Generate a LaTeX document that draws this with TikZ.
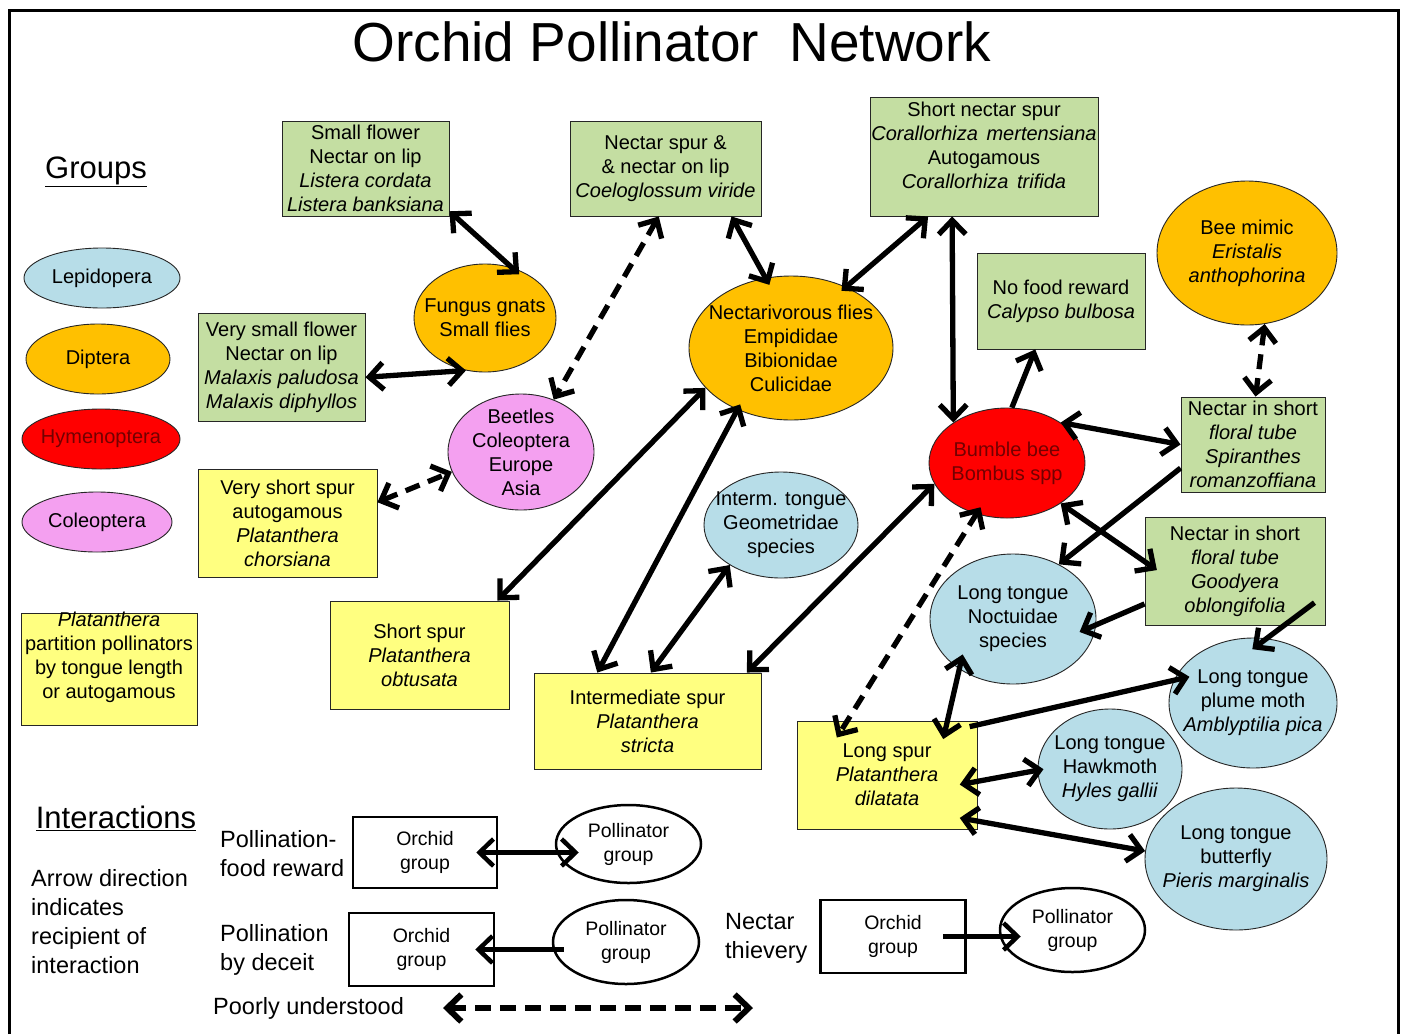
\documentclass[tikz,border=0pt]{standalone}
\usepackage{fontspec}
\setmainfont{Liberation Sans}
\usetikzlibrary{shapes.geometric,arrows.meta,calc}
\newcommand\fsz[2]{\fontsize{#1}{#2}\selectfont}
\definecolor{grn}{RGB}{196,222,162}
\definecolor{yel}{RGB}{255,255,128}
\definecolor{org}{RGB}{255,192,0}
\definecolor{blu}{RGB}{183,221,232}
\definecolor{vio}{RGB}{244,160,240}
\definecolor{rd}{RGB}{255,0,0}
\definecolor{drd}{RGB}{115,0,0}
\begin{document}
\begin{tikzpicture}[x=1pt,y=-1pt,
  >={Straight Barb[length=14pt,width=27pt]},
  box/.style={draw=black!85, line width=0.9pt, inner sep=0pt, align=center, font=\fsz{20}{24}},
  gbox/.style={box, fill=grn},
  ybox/.style={box, fill=yel},
  ell/.style={ellipse, draw=black!85, line width=0.9pt, inner sep=0pt},
  lbl/.style={align=center, font=\fsz{20}{24}, inner sep=0pt},
  arr/.style={line width=5.3pt},
  dsh/.style={arr, dash pattern=on 15pt off 9pt},
  lt/.style={align=left, font=\fsz{23.5}{29}, inner sep=0pt},
  hd/.style={font=\fsz{31}{36}, inner sep=0pt},
  lbox/.style={draw, line width=2.5pt, inner sep=0pt, align=center, font=\fsz{19.5}{24}},
  lell/.style={ellipse, draw, line width=2.5pt, inner sep=0pt, align=center, font=\fsz{19.5}{24}},
]
\useasboundingbox (0,0) rectangle (1408,1034);
\fill[white] (0,0) rectangle (1408,1034);
\draw[line width=3pt] (9.5,1034) -- (9.5,10.5) -- (1398.5,10.5) -- (1398.5,1034);

\node[font=\fsz{55}{60}, inner sep=0pt] (title) at (672,42) {Orchid Pollinator\ \ Network};

% legend groups
\node[hd] (groups) at (96,172) {\underline{Groups}};
\node[ell, fill=blu, minimum width=156pt, minimum height=60pt, label={[lbl]center:Lepidopera}] (lep) at (102,278) {};
\node[ell, fill=org, minimum width=144pt, minimum height=70pt, label={[lbl]center:Diptera}] (dip) at (98,359) {};
\node[ell, fill=rd, minimum width=158pt, minimum height=60pt, label={[lbl,text=drd]center:Hymenoptera}] (hym) at (101,439) {};
\node[ell, fill=vio, minimum width=150pt, minimum height=60pt, label={[lbl]center:Coleoptera}] (col) at (97,522) {};
\node[ybox, minimum width=176pt, minimum height=112pt] (yl) at (109,669) {};
\node[lbl] (ylt) at (109,657) {\textit{Platanthera}\\partition pollinators\\by tongue length\\or autogamous};

% green boxes
\node[gbox, minimum width=167pt, minimum height=95pt] (g1) at (365.5,168.5) {Small flower\\Nectar on lip\\\textit{Listera cordata}\\\textit{Listera banksiana}};
\node[gbox, minimum width=191pt, minimum height=95pt] (g2) at (665.5,168.5) {Nectar spur \&\\\& nectar on lip\\\textit{Coeloglossum viride}};
\node[gbox, minimum width=228pt, minimum height=119pt] (g3) at (984,156.5) {};
\node[lbl] (g3t) at (984,145) {Short nectar spur\\\textit{Corallorhiza\hspace{3pt} mertensiana}\\Autogamous\\\textit{Corallorhiza\hspace{3pt} trifida}};
\node[gbox, minimum width=168pt, minimum height=96pt] (g4) at (1061,301) {No food reward\\\textit{Calypso bulbosa}};
\node[gbox, minimum width=167pt, minimum height=108pt] (g5) at (281.5,367) {Very small flower\\Nectar on lip\\\textit{Malaxis paludosa}\\\textit{Malaxis diphyllos}};
\node[gbox, minimum width=144pt, minimum height=95pt] (g6) at (1253,444.5) {Nectar in short\\\textit{floral tube}\\\textit{Spiranthes}\\\textit{romanzoffiana}};
\node[gbox, minimum width=180pt, minimum height=108pt] (g7) at (1235,571) {Nectar in short\\\textit{floral tube}\\\textit{Goodyera}\\\textit{oblongifolia}};

% yellow boxes
\node[ybox, minimum width=179pt, minimum height=108pt] (y1) at (287.5,523) {Very short spur\\autogamous\\\textit{Platanthera}\\\textit{chorsiana}};
\node[ybox, minimum width=179pt, minimum height=108pt] (y2) at (419.5,655) {Short spur\\\textit{Platanthera}\\\textit{obtusata}};
\node[ybox, minimum width=227pt, minimum height=96pt] (y3) at (647.5,721) {Intermediate spur\\\textit{Platanthera}\\\textit{stricta}};
\node[ybox, minimum width=180pt, minimum height=108pt] (y4) at (887,775) {Long spur\\\textit{Platanthera}\\\textit{dilatata}};

% pollinator ellipses
\node[ell, fill=org, minimum width=142pt, minimum height=108pt, label={[lbl]center:{Fungus gnats\\Small flies}}] (fg) at (485,318) {};
\node[ell, fill=vio, minimum width=146pt, minimum height=116pt, label={[lbl]center:{Beetles\\Coleoptera\\Europe\\Asia}}] (be) at (521,452) {};
\node[ell, fill=org, minimum width=204pt, minimum height=144pt, label={[lbl]center:{Nectarivorous flies\\Empididae\\Bibionidae\\Culicidae}}] (nf) at (791,348) {};
\node[ell, fill=org, minimum width=180pt, minimum height=144pt, label={[lbl]center:{Bee mimic\\\textit{Eristalis}\\\textit{anthophorina}}}] (bm) at (1247,253) {};
\node[ell, fill=rd, minimum width=156pt, minimum height=110pt, label={[lbl,text=drd]center:{Bumble bee\\Bombus spp}}] (bb) at (1007,463) {};
\node[ell, fill=blu, minimum width=154pt, minimum height=106pt, label={[lbl]center:{Interm. tongue\\Geometridae\\species}}] (it) at (781,525) {};
\node[ell, fill=blu, minimum width=166pt, minimum height=130pt, label={[lbl]center:{Long tongue\\Noctuidae\\species}}] (ln) at (1013,619) {};
\node[ell, fill=blu, minimum width=168pt, minimum height=130pt, label={[lbl]center:{Long tongue\\plume moth\\\textit{Amblyptilia pica}}}] (pm) at (1253,703) {};
\node[ell, fill=blu, minimum width=144pt, minimum height=120pt, label={[lbl]center:{Long tongue\\Hawkmoth\\\textit{Hyles gallii}}}] (hm) at (1110,769) {};
\node[ell, fill=blu, minimum width=182pt, minimum height=142pt, label={[lbl]center:{Long tongue\\butterfly\\\textit{Pieris marginalis}}}] (bf) at (1236,859) {};

% network arrows
\draw[arr,<->,shorten >=-10pt] (g1.-27) -- (fg.62);
\draw[arr,<->] (g5.-7) -- (fg.250);
\draw[dsh,<->] (g2.-98) -- (be.58);
\draw[dsh,<->] (y1.13) -- (be.196);
\draw[arr,<->,shorten >=-8pt] (g2.-36) -- (nf.110);
\draw[arr,<->,shorten >=-6pt] (g3.-133) -- (nf.48);
\draw[arr,<->] (g3.-118) -- (bb.143);
\draw[arr,->] (bb.85) -- (g4.-118);
\draw[dsh,<->] (bm.-76) -- (g6.87);
\draw[arr,<->] (bb.37) -- (g6.180);
\draw[arr,<->] (nf.205) -- (y2.35);
\draw[arr,<->,shorten <=-6pt] (nf.229) -- (y3.136);
\draw[arr,<->] (it.218) -- (y3.86);
\draw[arr,<->] (bb.196) -- (y3.26);
\draw[dsh,<->,shorten <=-8pt,shorten >=-20pt] (bb.-121) -- (y4.126);
\draw[arr,<->,shorten >=-15pt] (bb.-37) -- (g7.174);
\draw[arr,->] (g6.198) -- (ln.50);
\draw[arr,->,shorten >=-18pt] (g7.200) -- (ln.-4);
\draw[arr,->,shorten <=-38pt,shorten >=-18pt] (g7.-48) -- (pm.78);
\draw[arr,<->,shorten <=-15pt,shorten >=-19pt] (ln.-137) -- (y4.42);
\draw[arr,->,shorten <=-8pt,shorten >=-16pt] (y4.29) -- (pm.164);
\draw[arr,<->,shorten <=-18pt,shorten >=-6pt] (y4.-4) -- (hm.181);
\draw[arr,<->,shorten <=-18pt] (y4.-27) -- (bf.175);

% legend interactions
\node[hd] (inter) at (116,818) {\underline{Interactions}};
\node[lt, anchor=west] (arrowdir) at (31,922) {Arrow direction\\indicates\\recipient of\\interaction};
\node[lt, anchor=west] (pfr) at (220,854) {Pollination-\\food reward};
\node[lt, anchor=west] (pbd) at (220,950) {Pollination\\by deceit};
\node[lt, anchor=west] (nth) at (725,938) {Nectar\\thievery};
\node[lt, anchor=west] (pu) at (213,1008) {Poorly understood};

\node[lbox, minimum width=144pt, minimum height=71pt] (ob1) at (425,852.5) {Orchid\\group};
\node[lell, minimum width=145pt, minimum height=78pt] (pe1) at (628.5,844) {Pollinator\\group};
\node[lbox, minimum width=145pt, minimum height=73pt] (ob2) at (421.5,949.5) {Orchid\\group};
\node[lell, minimum width=146pt, minimum height=84pt] (pe2) at (626,942) {Pollinator\\group};
\node[lbox, minimum width=145pt, minimum height=73pt] (ob3) at (893,936.5) {Orchid\\group};
\node[lell, minimum width=145pt, minimum height=84pt] (pe3) at (1072.5,930) {Pollinator\\group};

\draw[arr,<->,line width=4.5pt,shorten <=-22pt,shorten >=-24pt] (ob1.east) -- (ob1.east -| pe1.west);
\draw[arr,->,line width=4.5pt,shorten <=-12pt,shorten >=-20pt] (ob2.east -| pe2.west) -- (ob2.east);
\draw[arr,->,line width=4.5pt,shorten <=-24pt,shorten >=-22pt] (ob3.east) -- (ob3.east -| pe3.west);
\coordinate (pua) at (443,1008);
\coordinate (pub) at (753,1008);
\draw[arr,<->,line width=6pt,dash pattern=on 16pt off 9pt] (pua) -- (pub);
\end{tikzpicture}
\end{document}
